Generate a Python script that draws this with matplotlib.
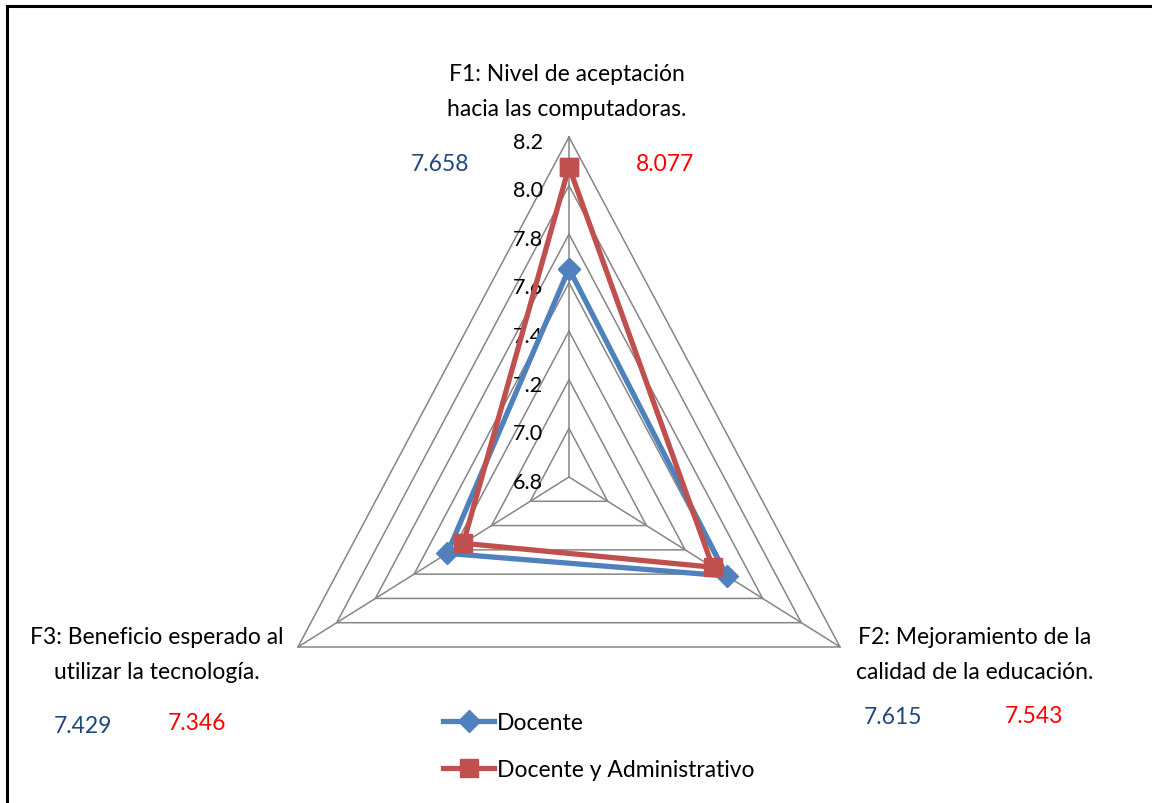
import numpy as np
import matplotlib.pyplot as plt
from matplotlib.lines import Line2D

factors = [["F1: Nivel de aceptación", "hacia las computadoras."],
           ["F2: Mejoramiento de la", "calidad de la educación."],
           ["F3: Beneficio esperado al", "utilizar la tecnología."]]
docente = [7.658, 7.615, 7.429]
docente_admin = [8.077, 7.543, 7.346]
ticks = [6.8, 7.0, 7.2, 7.4, 7.6, 7.8, 8.0, 8.2]
rmin, rmax = 6.8, 8.2

plt.rcParams['font.family'] = ['Lato', 'DejaVu Sans']

W, H = 1152, 804
cx, cy = 569, 478       # centre in pixels
Rx, Ry = 313, 340       # excel stretches the triangle vertically

fig = plt.figure(figsize=(W / 100, H / 100), dpi=100)
ax = fig.add_axes([0, 0, 1, 1])
ax.set_xlim(-cx / Rx, (W - cx) / Rx)
ax.set_ylim(-(H - cy) / Ry, cy / Ry)
ax.axis('off')

angles = np.deg2rad([90, -30, 210])


def xy(vals):
    r = (np.asarray(vals) - rmin) / (rmax - rmin)
    x = r * np.cos(angles)
    y = r * np.sin(angles)
    return np.append(x, x[0]), np.append(y, y[0])


def px(x, y):
    # pixel position -> data coords
    return (x - cx) / Rx, -(y - cy) / Ry


# grid rings and spokes
for t in ticks[1:]:
    gx, gy = xy([t] * 3)
    ax.plot(gx, gy, color='#868686', lw=1.1, zorder=1)
for a in angles:
    ax.plot([0, np.cos(a)], [0, np.sin(a)], color='#868686', lw=1.1, zorder=1)

# tick labels along the top spoke
for t in ticks:
    r = (t - rmin) / (rmax - rmin)
    ax.text(-0.082, r - 0.014, f"{t:.1f}", ha='right', va='center', fontsize=15.5,
            color='black')

bx, by = xy(docente)
ax.plot(bx, by, color='#4F81BD', lw=3.8, marker='D', ms=11, zorder=3)
rx, ry = xy(docente_admin)
ax.plot(rx, ry, color='#C0504D', lw=3.8, marker='s', ms=13, zorder=4)

# category labels
label_pos = [(567, 75), (975, 638), (157, 638)]
for (lx, ly), lines in zip(label_pos, factors):
    for i, line in enumerate(lines):
        ax.text(*px(lx, ly + 35 * i), line, ha='center', va='center', fontsize=16.5)

# value notes
notes = [(440, 165, docente[0], '#1F497D'), (665, 165, docente_admin[0], '#FF0000'),
         (893, 718, docente[1], '#1F497D'), (1034, 717, docente_admin[1], '#FF0000'),
         (83, 727, docente[2], '#1F497D'), (197, 724, docente_admin[2], '#FF0000')]
for nx, ny, v, c in notes:
    ax.text(*px(nx, ny), f"{v:.3f}", ha='center', va='center', fontsize=16.5, color=c)

handles = [Line2D([], [], color='#4F81BD', lw=3.8, marker='D', ms=11),
           Line2D([], [], color='#C0504D', lw=3.8, marker='s', ms=13)]
fig.legend(handles, ['Docente', 'Docente y Administrativo'], loc='upper left',
           bbox_to_anchor=(432 / W, 1 - 702 / H), frameon=False, fontsize=16.5,
           handlelength=2.2, handletextpad=0.12, labelspacing=1.1, borderpad=0)

# chart-area border (only top and left edges visible)
ax.plot([px(7, 0)[0], px(W, 0)[0]], [px(0, 7)[1]] * 2, color='black', lw=2.2,
        clip_on=False)
ax.plot([px(7, 0)[0]] * 2, [px(0, 7)[1], px(0, H)[1]], color='black', lw=2.2,
        clip_on=False)

fig.savefig('out.png', dpi=100)
